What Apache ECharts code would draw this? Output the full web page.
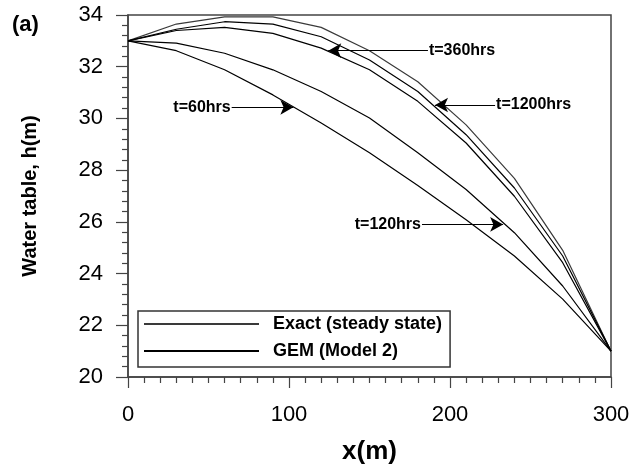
<!DOCTYPE html>
<html>
<head>
<meta charset="utf-8">
<script src="https://cdn.jsdelivr.net/npm/echarts@6/dist/echarts.min.js"></script>
<style>
    html, body { margin: 0; padding: 0; background: #fff; }
    #chart { width: 633px; height: 466px; }
</style>
</head>
<body>
<div id="chart"></div>
<script>
// x positions (m) along the aquifer
var xValues = [0, 30, 60, 90, 120, 150, 180, 210, 240, 270, 300];

// water table h(m)
var exactSteady = [33, 33.65, 33.93, 33.93, 33.52, 32.62, 31.42, 29.75, 27.68, 24.9, 21];
var gem1200 = [33, 33.45, 33.74, 33.65, 33.16, 32.26, 31.04, 29.37, 27.31, 24.68, 21];
var gem360 = [33, 33.4, 33.52, 33.29, 32.72, 31.88, 30.66, 29.05, 26.99, 24.42, 21];
var gem120 = [33, 32.91, 32.52, 31.88, 31.04, 30.02, 28.67, 27.25, 25.58, 23.52, 21];
var gem60 = [33, 32.62, 31.88, 30.91, 29.82, 28.67, 27.41, 26.08, 24.68, 23.01, 21];

// annotation arrows: label, start (x,h), tip (x,h)
var notes = [
    { text: "t=60hrs", from: [64.4, 30.43], to: [102.7, 30.43] },
    { text: "t=120hrs", from: [182.6, 25.9], to: [233, 25.9] },
    { text: "t=360hrs", from: [186.3, 32.62], to: [124.4, 32.62] },
    { text: "t=1200hrs", from: [228, 30.52], to: [190.7, 30.52] }
];

var font = "'Liberation Sans', Arial, sans-serif";

function pairs(ys) {
    return xValues.map(function(x, i) {
        return [x, ys[i]];
    });
}

function gemSeries(ys, extra) {
    var s = {
        name: "GEM (Model 2)",
        type: "line",
        symbol: "none",
        color: "#000",
        lineStyle: { width: 1.2, color: "#000" },
        data: pairs(ys),
        z: 3
    };
    return Object.assign(s, extra || {});
}

var chart = echarts.init(document.getElementById("chart"));

var option = {
    animation: false,
    textStyle: { fontFamily: font },
    title: {
        text: "(a)",
        left: 7,
        top: 9,
        textStyle: { fontFamily: font, fontSize: 22, fontWeight: "bold", color: "#000" }
    },
    grid: {
        left: 128,
        right: 22,
        top: 15,
        bottom: 89,
        outerBoundsMode: "none",
        containLabel: false,
        show: true,
        borderColor: "#444",
        borderWidth: 1.5
    },
    legend: {
        orient: "vertical",
        left: 138,
        top: 311,
        padding: [4, 8, 7, 5],
        itemGap: 9,
        itemWidth: 115,
        itemHeight: 14,
        itemStyle: { color: "rgba(0,0,0,0)", borderWidth: 0 },
        borderColor: "#333",
        borderWidth: 1.5,
        data: ["Exact (steady state)", "GEM (Model 2)"],
        textStyle: {
            fontFamily: font,
            fontSize: 18,
            fontWeight: "bold",
            color: "#000",
            lineHeight: 18,
            padding: [0, 0, 0, 9]
        }
    },
    xAxis: {
        type: "value",
        min: 0,
        max: 300,
        interval: 100,
        name: "x(m)",
        nameLocation: "middle",
        nameGap: 62,
        nameTextStyle: { fontFamily: font, fontSize: 26, fontWeight: "bold", color: "#000" },
        axisLine: { lineStyle: { color: "#444", width: 1.5 } },
        axisTick: { length: 11, lineStyle: { color: "#444", width: 1.2 } },
        minorTick: { show: true, splitNumber: 10, length: 6, lineStyle: { color: "#444", width: 1.2 } },
        axisLabel: { fontFamily: font, fontSize: 22, color: "#000", margin: 27 },
        splitLine: { show: false }
    },
    yAxis: {
        type: "value",
        min: 20,
        max: 34,
        interval: 2,
        name: "Water table, h(m)",
        nameLocation: "middle",
        nameRotate: 90,
        nameGap: 88,
        nameTextStyle: { fontFamily: font, fontSize: 20, fontWeight: "bold", color: "#000" },
        axisLine: { lineStyle: { color: "#444", width: 1.5 } },
        axisTick: { length: 12, lineStyle: { color: "#444", width: 1.2 } },
        minorTick: { show: true, splitNumber: 5, length: 6, lineStyle: { color: "#444", width: 1.2 } },
        axisLabel: { fontFamily: font, fontSize: 22, color: "#000", margin: 25 },
        splitLine: { show: false }
    },
    series: [
        {
            name: "Exact (steady state)",
            type: "line",
            symbol: "none",
            color: "#3a3a3a",
            lineStyle: { width: 1.2, color: "#3a3a3a" },
            data: pairs(exactSteady),
            z: 3
        },
        gemSeries(gem1200),
        gemSeries(gem360),
        gemSeries(gem120),
        gemSeries(gem60, {
            markLine: {
                silent: true,
                symbol: ["none", "arrow"],
                symbolSize: [11, 13],
                lineStyle: { type: "solid", color: "#000", width: 1 },
                label: {
                    show: true,
                    position: "start",
                    distance: 1,
                    formatter: function(p) {
                        return p.name;
                    },
                    fontFamily: font,
                    fontSize: 16,
                    fontWeight: "bold",
                    color: "#000"
                },
                data: notes.map(function(n) {
                    return [
                        { name: n.text, coord: n.from },
                        { coord: n.to }
                    ];
                })
            }
        })
    ]
};

chart.setOption(option);
window.addEventListener("resize", chart.resize);
</script>
</body>
</html>
